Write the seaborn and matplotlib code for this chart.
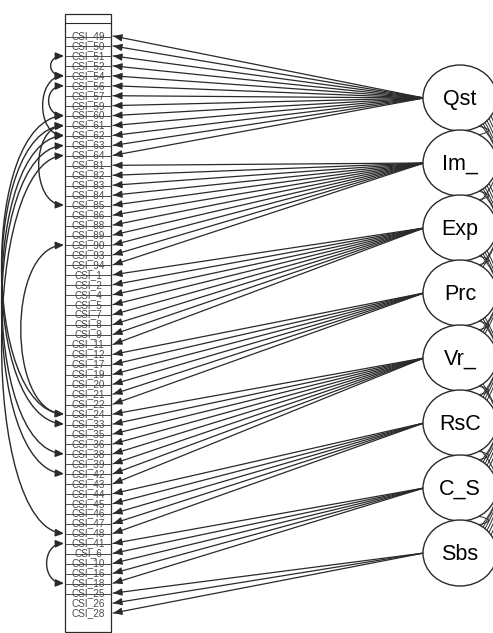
import numpy as np
import pandas as pd
import matplotlib.pyplot as plt
import seaborn as sns
from matplotlib.patches import Ellipse, Rectangle, FancyArrowPatch
from matplotlib.path import Path

# observed indicators, top to bottom as they sit in the column
item_labels = ["CSI_49", "CSI_50", "CSI_51", "CSI_52", "CSI_54", "CSI_56", "CSI_57",
               "CSI_59", "CSI_60", "CSI_61", "CSI_62", "CSI_63", "CSI_64",
               "CSI_81", "CSI_82", "CSI_83", "CSI_84", "CSI_85", "CSI_86", "CSI_88",
               "CSI_89", "CSI_90", "CSI_93", "CSI_94",
               "CSI_1", "CSI_2", "CSI_4", "CSI_5", "CSI_7", "CSI_8", "CSI_9", "CSI_11",
               "CSI_12", "CSI_17", "CSI_19", "CSI_20", "CSI_21", "CSI_22",
               "CSI_24", "CSI_33", "CSI_35", "CSI_36", "CSI_38", "CSI_39", "CSI_42", "CSI_43",
               "CSI_44", "CSI_45", "CSI_46", "CSI_47", "CSI_48",
               "CSI_41", "CSI_6", "CSI_10", "CSI_16", "CSI_18",
               "CSI_25", "CSI_26", "CSI_28"]

# latent factors, top to bottom
factor_labels = ["Qst", "Im_", "Exp", "Prc", "Vr_", "RsC", "C_S", "Sbs"]

# which factor loads on each item
item_factor = (["Qst"] * 13 + ["Im_"] * 11 + ["Exp"] * 8 + ["Prc"] * 6 +
               ["Vr_"] * 8 + ["RsC"] * 5 + ["C_S"] * 5 + ["Sbs"] * 3)

# residual covariances drawn on the left
resid_pairs = [("CSI_51", "CSI_54"), ("CSI_56", "CSI_60"), ("CSI_54", "CSI_62"),
               ("CSI_61", "CSI_85"), ("CSI_60", "CSI_24"), ("CSI_61", "CSI_33"),
               ("CSI_62", "CSI_38"), ("CSI_63", "CSI_42"), ("CSI_64", "CSI_48"),
               ("CSI_90", "CSI_24"), ("CSI_41", "CSI_18")]

# layout (pixels)
W, H = 493, 633
box_l, box_r = 65, 111
item_top, item_step = 36, 9.95
fac_x, fac_top, fac_step = 460, 98, 65
ell_w, ell_h = 74, 66
ink = "#2a2a2a"

item_y = {lab: item_top + i * item_step for i, lab in enumerate(item_labels)}
fac_y = {f: fac_top + i * fac_step for i, f in enumerate(factor_labels)}

sns.set_theme(style="white")
plt.rcParams['font.family'] = ['Liberation Sans', 'DejaVu Sans']

fig = plt.figure(figsize=(W / 100, H / 100), dpi=100)
ax = fig.add_axes([0, 0, 1, 1])
ax.set_xlim(0, W)
ax.set_ylim(H, 0)
ax.axis("off")

# item column
ax.add_patch(Rectangle((box_l, 14), box_r - box_l, H - 1 - 14, fill=False, ec=ink, lw=0.9, zorder=3))
ax.plot([box_l, box_r], [23, 23], color=ink, lw=0.8, zorder=3)
for i, lab in enumerate(item_labels):
    y = item_y[lab]
    if i < len(item_labels) - 2:
        ax.plot([box_l, box_r], [y + 0.5, y + 0.5], color="#4a4a4a", lw=0.7, zorder=3)
    ax.text((box_l + box_r) / 2, y, lab, ha="center", va="center", fontsize=7.2,
            color="#4a4a4a", zorder=4)

# loadings
rows = []
for k, (lab, f) in enumerate(zip(item_labels, item_factor)):
    rows.append({"edge": k, "x": fac_x - ell_w / 2 + 1, "y": fac_y[f]})
    rows.append({"edge": k, "x": box_r + 2, "y": item_y[lab]})
load_df = pd.DataFrame(rows)
sns.lineplot(data=load_df, x="x", y="y", units="edge", estimator=None, sort=False,
             color=ink, lw=0.9, ax=ax, legend=False)
for lab, f in zip(item_labels, item_factor):
    x0, y0 = fac_x - ell_w / 2, fac_y[f]
    x1, y1 = box_r + 2, item_y[lab]
    d = np.hypot(x0 - x1, y0 - y1)
    ux, uy = (x0 - x1) / d, (y0 - y1) / d
    ax.annotate("", xy=(x1, y1), xytext=(x1 + ux * 7, y1 + uy * 7),
                arrowprops=dict(arrowstyle="-|>,head_length=0.45,head_width=0.18",
                                color=ink, lw=0.8, shrinkA=0, shrinkB=0))

# residual covariances (curves bulging left)
for a, b in resid_pairs:
    ya, yb = item_y[a], item_y[b]
    span = abs(yb - ya)
    bulge = min(9 + 0.2 * span, 62) / 0.75
    x0 = box_l - 1
    verts = [(x0, ya), (x0 - bulge, ya + 0.02 * span), (x0 - bulge, yb - 0.02 * span), (x0, yb)]
    p = Path(verts, [Path.MOVETO, Path.CURVE4, Path.CURVE4, Path.CURVE4])
    ax.add_patch(FancyArrowPatch(path=p, arrowstyle="<|-|>,head_length=0.5,head_width=0.22",
                                 mutation_scale=10, color=ink, lw=1.0, zorder=2))

# factor covariances (curves bulging right, mostly off canvas)
nf = len(factor_labels)
a_, b_ = ell_w / 2, ell_h / 2
for i in range(nf):
    for j in range(i + 1, nf):
        gap = j - i
        dx = 17 + 2.0 * gap
        dy = b_ * np.sqrt(1 - (dx / a_) ** 2)
        ys, ye = fac_y[factor_labels[i]] + dy, fac_y[factor_labels[j]] - dy
        span = ye - ys
        xs = fac_x + dx
        verts = [(xs, ys), (xs + 4 + 9 * gap, ys + 0.35 * span),
                 (xs + 4 + 9 * gap, ye - 0.35 * span), (xs, ye)]
        p = Path(verts, [Path.MOVETO, Path.CURVE4, Path.CURVE4, Path.CURVE4])
        ax.add_patch(FancyArrowPatch(path=p, arrowstyle="-", color=ink, lw=0.7, zorder=1))

# factor ellipses
for f in factor_labels:
    ax.add_patch(Ellipse((fac_x, fac_y[f]), ell_w, ell_h, fc="white", ec=ink, lw=1.0, zorder=5))
    ax.text(fac_x, fac_y[f] + 1, f, ha="center", va="center", fontsize=15.5, color="black", zorder=6)

fig.savefig("out.png", dpi=100)
